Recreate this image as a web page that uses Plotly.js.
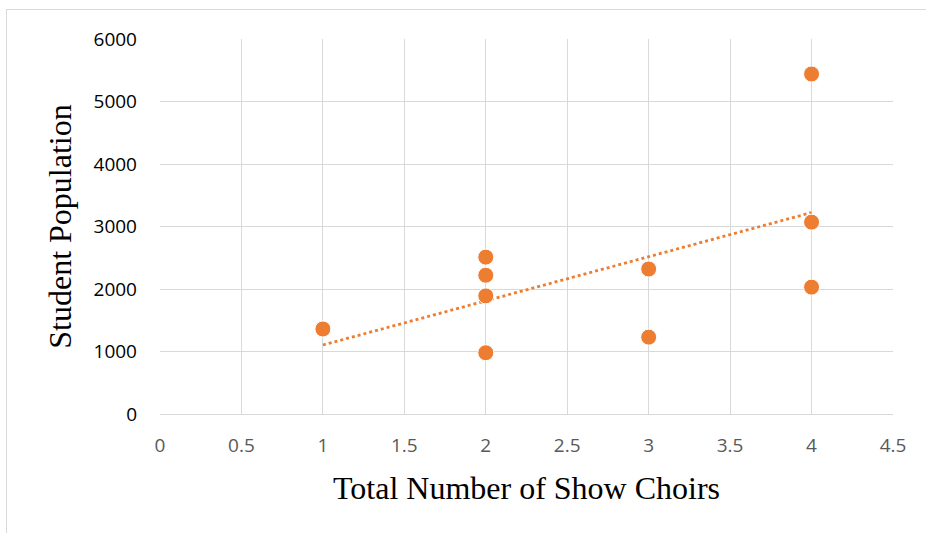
<!DOCTYPE html>
<html>
<head>
<meta charset="utf-8">
<script src="https://cdn.plot.ly/plotly-3.0.1.min.js"></script>
<style>
html,body{margin:0;padding:0;background:#fff;}
#wrap{position:relative;width:926px;height:533px;}
#chart{width:926px;height:533px;}
#frame{position:absolute;left:6px;top:9px;width:940px;height:540px;border:1px solid #d9d9d9;pointer-events:none;}
</style>
</head>
<body>
<div id="wrap"><div id="chart"></div><div id="frame"></div></div>
<script>
const choirs = [1, 2, 2, 2, 2, 3, 3, 4, 4, 4];
const population = [1360, 2510, 2220, 1890, 980, 2320, 1230, 5440, 3070, 2030];
const xTicks = [0, 0.5, 1, 1.5, 2, 2.5, 3, 3.5, 4, 4.5];
const yTicks = [0, 1000, 2000, 3000, 4000, 5000, 6000];

// linear least-squares trendline from the data
const n = choirs.length;
const mx = choirs.reduce((a,b)=>a+b,0)/n;
const my = population.reduce((a,b)=>a+b,0)/n;
let sxx=0, sxy=0;
for (let i=0;i<n;i++){ sxx+=(choirs[i]-mx)**2; sxy+=(choirs[i]-mx)*(population[i]-my); }
const slope = sxy/sxx, icpt = my - slope*mx;
const tx = [Math.min(...choirs), Math.max(...choirs)];
const ty = tx.map(v=>icpt+slope*v);

const orange = '#ED7D31';
const data = [
  {x: tx, y: ty, mode:'lines', type:'scatter', line:{color:orange, width:2.8, dash:'dot'}, hoverinfo:'skip'},
  {x: choirs, y: population, mode:'markers', type:'scatter',
   marker:{color:orange, size:16, line:{color:'#ffffff', width:1}}}
];
const layout = {
  width:926, height:533,
  margin:{l:160, r:33, t:39, b:119},
  showlegend:false,
  paper_bgcolor:'#fff', plot_bgcolor:'#fff',
  xaxis:{range:[0,4.5], tickvals:xTicks, ticktext:xTicks.map(String),
    showgrid:true, gridcolor:'#d9d9d9', gridwidth:1, zeroline:false,
    showline:false, ticks:'', ticklen:0, ticklabelstandoff:18,
    tickfont:{family:'Open Sans, sans-serif', size:19, color:'#595959'},
    title:{text:'Total Number of Show Choirs', font:{family:'Liberation Serif, serif', size:32, color:'#000'}, standoff:19}},
  yaxis:{range:[0,6000], tickvals:yTicks, ticktext:yTicks.map(String),
    showgrid:true, gridcolor:'#d9d9d9', gridwidth:1, zeroline:true, zerolinecolor:'#d9d9d9', zerolinewidth:1,
    showline:false, ticks:'', ticklen:0, ticklabelstandoff:22,
    tickfont:{family:'Open Sans, sans-serif', size:19, color:'#000'},
    title:{text:'Student Population', font:{family:'Liberation Serif, serif', size:32, color:'#000'}, standoff:12}},
};
Plotly.newPlot('chart', data, layout, {displayModeBar:false, staticPlot:true});
</script>
</body>
</html>
